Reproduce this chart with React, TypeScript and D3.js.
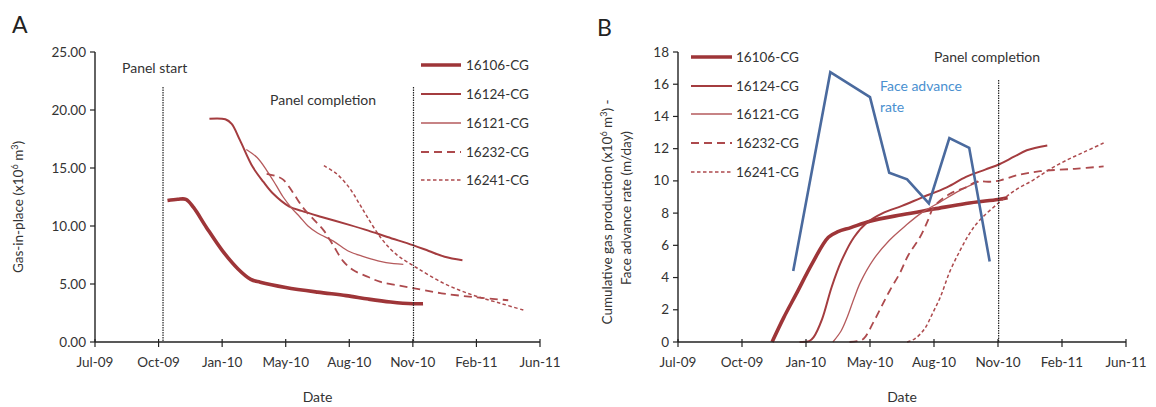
import React from "react";
import * as d3 from "d3";

// x values are days since 6 Jul 2009 (axis origin, Excel major unit = 100 days)
const xTickDays = [0, 100, 200, 300, 400, 500, 600, 700];
const xTickLabels = ["Jul-09", "Oct-09", "Jan-10", "May-10", "Aug-10", "Nov-10", "Feb-11", "Jun-11"];
const yTicksA = [0, 5, 10, 15, 20, 25];
const yTicksB = [0, 2, 4, 6, 8, 10, 12, 14, 16, 18];
const panelStartDay = 107;
const panelCompletionDay = 501;

const seriesNames = ["16106-CG", "16124-CG", "16121-CG", "16232-CG", "16241-CG"];

// Panel A: gas-in-place (x10^6 m3)
const gipA16106: [number, number][] = [[114, 12.2], [130, 12.3], [143, 12.3], [155, 11.6], [175, 9.9], [200, 7.9], [225, 6.3], [245, 5.4], [260, 5.15], [300, 4.7], [350, 4.3], [395, 4.0], [430, 3.7], [465, 3.45], [500, 3.3], [516, 3.3]];
const gipA16124: [number, number][] = [[180, 19.25], [205, 19.2], [215, 18.8], [228, 17.4], [248, 15.1], [265, 13.8], [280, 12.8], [305, 11.7], [325, 11.3], [355, 10.8], [400, 10.1], [430, 9.6], [460, 9.05], [500, 8.35], [525, 7.85], [550, 7.35], [578, 7.05]];
const gipA16121: [number, number][] = [[238, 16.6], [255, 15.9], [270, 14.8], [285, 13.5], [296, 12.5], [310, 11.5], [322, 10.8], [335, 10.0], [350, 9.4], [375, 8.7], [400, 7.8], [420, 7.4], [445, 7.0], [470, 6.75], [485, 6.7]];
const gipA16232: [number, number][] = [[270, 14.5], [285, 14.3], [296, 14.0], [310, 13.0], [327, 11.6], [345, 10.5], [360, 9.6], [375, 8.3], [390, 7.0], [406, 6.2], [430, 5.6], [448, 5.2], [470, 4.95], [500, 4.65], [545, 4.2], [600, 3.85], [650, 3.6]];
const gipA16241: [number, number][] = [[360, 15.2], [380, 14.5], [400, 13.3], [415, 12.0], [428, 10.8], [448, 9.1], [465, 8.0], [480, 7.3], [506, 6.4], [547, 5.1], [594, 4.05], [640, 3.3], [677, 2.7]];

// Panel B: cumulative gas production (x10^6 m3)
const cumB16106: [number, number][] = [[147, 0], [165, 1.5], [185, 3.0], [210, 4.9], [235, 6.5], [250, 6.85], [270, 7.1], [300, 7.5], [350, 7.9], [400, 8.25], [450, 8.6], [500, 8.85], [515, 8.95]];
const cumB16124: [number, number][] = [[190, 0], [205, 0.05], [212, 0.3], [225, 1.4], [240, 3.4], [255, 5.0], [275, 6.5], [295, 7.4], [320, 8.0], [350, 8.45], [380, 8.95], [420, 9.6], [450, 10.25], [480, 10.7], [503, 11.05], [525, 11.5], [545, 11.9], [577, 12.2]];
const cumB16121: [number, number][] = [[242, 0], [255, 0.7], [265, 1.6], [275, 2.7], [285, 3.7], [305, 5.1], [330, 6.3], [355, 7.2], [380, 8.0], [410, 8.7], [440, 9.4], [470, 9.95]];
const cumB16232: [number, number][] = [[268, 0], [280, 0.05], [290, 0.2], [305, 1.2], [318, 2.2], [331, 3.2], [347, 4.3], [360, 5.4], [378, 6.5], [390, 7.5], [400, 8.4], [425, 9.2], [450, 9.6], [467, 9.95], [490, 9.95], [505, 10.05], [530, 10.35], [566, 10.6], [620, 10.75], [665, 10.9]];
const cumB16241: [number, number][] = [[358, 0], [370, 0.2], [385, 0.8], [398, 1.8], [410, 2.8], [425, 4.4], [441, 5.7], [455, 6.7], [470, 7.5], [503, 8.7], [530, 9.5], [555, 10.05], [580, 10.7], [608, 11.3], [635, 11.8], [665, 12.35]];

// Face advance rate (m/day)
const faceAdvance: [number, number][] = [[180, 4.4], [238, 16.75], [300, 15.2], [330, 10.5], [358, 10.1], [392, 8.6], [424, 12.65], [455, 12.05], [487, 5.0]];

const styles = [
  { color: "#9e3538", width: 3.6, dash: "" },
  { color: "#a43c3f", width: 2.0, dash: "" },
  { color: "#b55a5c", width: 1.3, dash: "" },
  { color: "#ad4a4d", width: 1.8, dash: "8,5" },
  { color: "#ad4a4d", width: 1.5, dash: "3.5,2.5" },
];

const FONT = "Lato, 'Open Sans', sans-serif";
const TXT = "#333";

type PanelProps = {
  x0: number; x1: number; yMax: number; yTicks: number[]; fmt: (v: number) => string;
  series: [number, number][][]; dividerTop: number; showStart: boolean;
};

function Panel(p: PanelProps) {
  const x = d3.scaleLinear().domain([0, 700]).range([p.x0, p.x1]);
  const y = d3.scaleLinear().domain([0, p.yMax]).range([342, 52]);
  const line = d3.line<[number, number]>().x(d => x(d[0])).y(d => y(d[1])).curve(d3.curveCatmullRom.alpha(0.5));
  return (
    <g>
      {p.series.map((s, i) => (
        <path key={i} d={line(s) || ""} fill="none" stroke={styles[i].color} strokeWidth={styles[i].width}
          strokeDasharray={styles[i].dash} strokeLinecap="butt" strokeLinejoin="round" />
      ))}
      <line x1={p.x0} x2={p.x0} y1={y(p.yMax)} y2={342} stroke="#222" strokeWidth={1.4} />
      <line x1={p.x0} x2={p.x1} y1={342} y2={342} stroke="#222" strokeWidth={1.4} />
      {p.yTicks.map(t => (
        <g key={t}>
          <line x1={p.x0 - 5} x2={p.x0} y1={y(t)} y2={y(t)} stroke="#222" strokeWidth={1.2} />
          <text x={p.x0 - 9} y={y(t) + 4.5} textAnchor="end" fontSize={13.5} fill={TXT} fontFamily={FONT}>{p.fmt(t)}</text>
        </g>
      ))}
      {xTickDays.map((t, i) => (
        <g key={t}>
          <line x1={x(t)} x2={x(t)} y1={339} y2={347} stroke="#222" strokeWidth={1.2} />
          <text x={x(t)} y={367} textAnchor="middle" fontSize={13.5} fill={TXT} fontFamily={FONT}>{xTickLabels[i]}</text>
        </g>
      ))}
      <text x={(p.x0 + p.x1) / 2} y={402} textAnchor="middle" fontSize={14} fill={TXT} fontFamily={FONT}>Date</text>
      {p.showStart && (
        <line x1={x(panelStartDay)} x2={x(panelStartDay)} y1={87} y2={342} stroke="#222" strokeWidth={1.2} strokeDasharray="1.5,1" />
      )}
      <line x1={x(panelCompletionDay)} x2={x(panelCompletionDay)} y1={p.dividerTop} y2={342} stroke="#222" strokeWidth={1.2} strokeDasharray="1.5,1" />
    </g>
  );
}

function Legend({ lx0, lx1, tx, rows }: { lx0: number; lx1: number; tx: number; rows: number[] }) {
  return (
    <g>
      {seriesNames.map((n, i) => (
        <g key={n}>
          <line x1={lx0} x2={lx1} y1={rows[i]} y2={rows[i]} stroke={styles[i].color} strokeWidth={styles[i].width} strokeDasharray={styles[i].dash} />
          <text x={tx} y={rows[i] + 4.5} fontSize={13.5} fill={TXT} fontFamily={FONT}>{n}</text>
        </g>
      ))}
    </g>
  );
}

export default function App() {
  const xB = d3.scaleLinear().domain([0, 700]).range([678, 1126]);
  const yB = d3.scaleLinear().domain([0, 18]).range([342, 52]);
  const faceLine = d3.line<[number, number]>().x(d => xB(d[0])).y(d => yB(d[1]));
  return (
    <svg width={1156} height={407} style={{ position: "absolute", left: 0, top: 0, background: "#fff" }}>
      <rect width={1156} height={407} fill="#fff" />
      {/* Panel A */}
      <text x={12} y={33} fontSize={23} fill="#222" fontFamily={FONT}>A</text>
      <Panel x0={95} x1={540} yMax={25} yTicks={yTicksA} fmt={v => v.toFixed(2)}
        series={[gipA16106, gipA16124, gipA16121, gipA16232, gipA16241]} dividerTop={87} showStart={true} />
      <text transform="translate(23,207) rotate(-90)" textAnchor="middle" fontSize={13.5} fill={TXT} fontFamily={FONT}>
        Gas-in-place (x10<tspan fontSize={9} dy={-5}>6</tspan><tspan dy={5}> m</tspan><tspan fontSize={9} dy={-5}>3</tspan><tspan dy={5}>)</tspan>
      </text>
      <text x={122} y={73} fontSize={14} fill={TXT} fontFamily={FONT}>Panel start</text>
      <text x={270} y={105} fontSize={14} fill={TXT} fontFamily={FONT}>Panel completion</text>
      <Legend lx0={421} lx1={461} tx={466} rows={[65, 94, 123, 152, 180]} />

      {/* Panel B */}
      <text x={597} y={36} fontSize={23} fill="#222" fontFamily={FONT}>B</text>
      <Panel x0={678} x1={1126} yMax={18} yTicks={yTicksB} fmt={v => String(v)}
        series={[cumB16106, cumB16124, cumB16121, cumB16232, cumB16241]} dividerTop={80} showStart={false} />
      <path d={faceLine(faceAdvance) || ""} fill="none" stroke="#4a6a9e" strokeWidth={2.6} strokeLinejoin="miter" />
      <text transform="translate(612,212) rotate(-90)" textAnchor="middle" fontSize={13.5} fill={TXT} fontFamily={FONT}>
        Cumulative gas production (x10<tspan fontSize={9} dy={-5}>6</tspan><tspan dy={5}> m</tspan><tspan fontSize={9} dy={-5}>3</tspan><tspan dy={5}>) -</tspan>
      </text>
      <text transform="translate(631,208) rotate(-90)" textAnchor="middle" fontSize={13.5} fill={TXT} fontFamily={FONT}>
        Face advance rate (m/day)
      </text>
      <text x={934} y={62} fontSize={14} fill={TXT} fontFamily={FONT}>Panel completion</text>
      <text x={880} y={91} fontSize={14} fill="#4a90d0" fontFamily={FONT}>Face advance</text>
      <text x={880} y={112} fontSize={14} fill="#4a90d0" fontFamily={FONT}>rate</text>
      <Legend lx0={691} lx1={732} tx={736} rows={[57, 86, 114, 143, 172]} />
    </svg>
  );
}
